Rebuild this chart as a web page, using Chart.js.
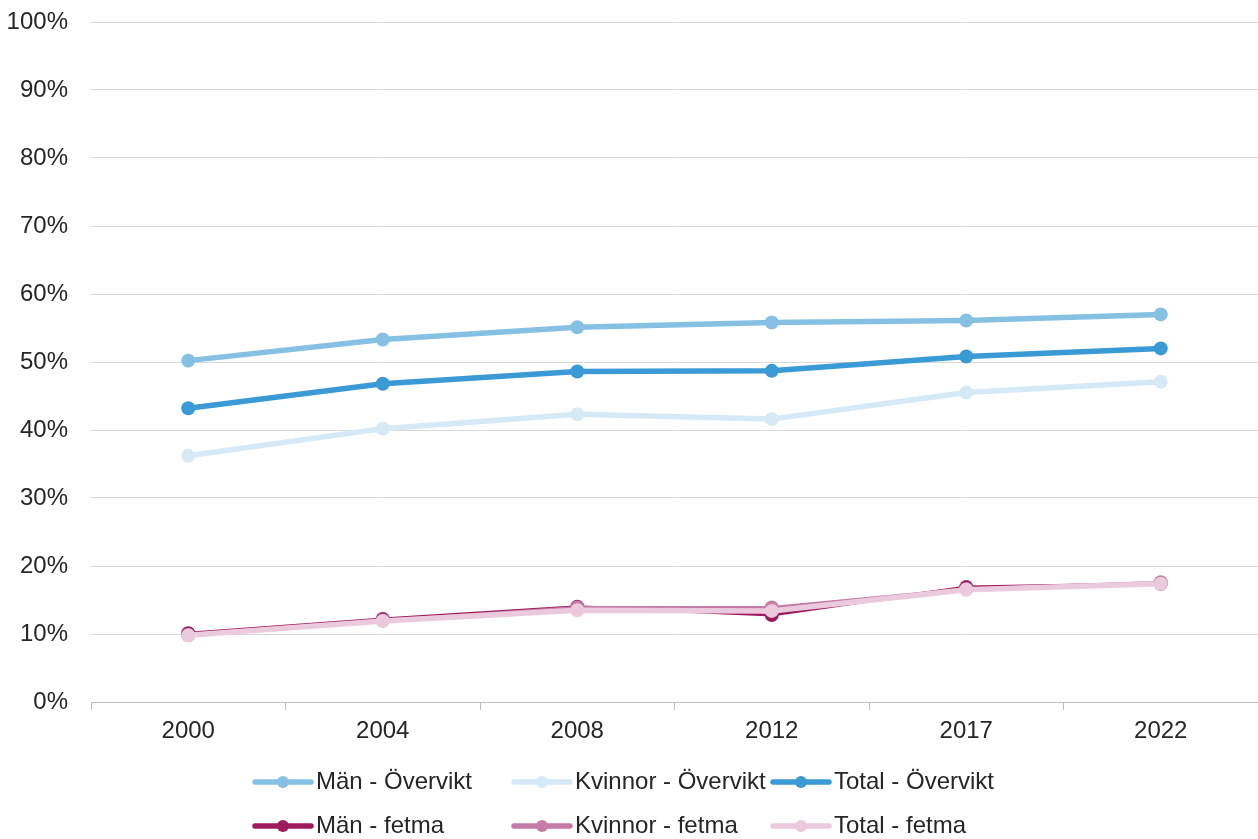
<!DOCTYPE html>
<html>
<head>
<meta charset="utf-8">
<script src="https://cdn.jsdelivr.net/npm/chart.js"></script>
<style>
  html, body { margin: 0; padding: 0; background: #fff; }
  #wrap { width: 1258px; height: 839px; }
</style>
</head>
<body>
<div id="wrap"><canvas id="myChart" width="1258" height="839"></canvas></div>
<script>
const years = ['2000', '2004', '2008', '2012', '2017', '2022'];

const manOvervikt = [50.2, 53.3, 55.1, 55.8, 56.1, 57.0];
const kvinnorOvervikt = [36.2, 40.2, 42.3, 41.6, 45.5, 47.1];
const totalOvervikt = [43.2, 46.8, 48.6, 48.7, 50.8, 52.0];
const manFetma = [10.1, 12.2, 14.0, 12.8, 16.9, 17.4];
const kvinnorFetma = [9.8, 12.0, 13.9, 13.9, 16.6, 17.6];
const totalFetma = [9.8, 11.9, 13.5, 13.4, 16.5, 17.4];

const seriesNames = [
  'Män - Övervikt', 'Kvinnor - Övervikt', 'Total - Övervikt',
  'Män - fetma', 'Kvinnor - fetma', 'Total - fetma',
];
const seriesValues = [manOvervikt, kvinnorOvervikt, totalOvervikt, manFetma, kvinnorFetma, totalFetma];
const seriesColors = ['#86c1e4', '#d6e9f6', '#3a9ad6', '#9e1a5f', '#c47ba6', '#ebcadd'];
const seriesWidths = [5.5, 5.5, 5.5, 3, 3, 5.5];

const textColor = '#262626';
const font = { family: 'Arial, "Liberation Sans", sans-serif', size: 24 };

// legend in two rows of three, under the x axis
const legendGrid = {
  id: 'legendGrid',
  afterDraw(chart) {
    const ctx = chart.ctx;
    const cols = [255, 514, 773];
    const rows = [782, 826];
    ctx.save();
    chart.data.datasets.forEach((ds, i) => {
      const x = cols[i % 3];
      const y = rows[Math.floor(i / 3)];
      ctx.strokeStyle = ds.borderColor;
      ctx.fillStyle = ds.borderColor;
      ctx.lineWidth = 5.5;
      ctx.lineCap = 'round';
      ctx.beginPath();
      ctx.moveTo(x, y);
      ctx.lineTo(x + 56, y);
      ctx.stroke();
      ctx.beginPath();
      ctx.arc(x + 28, y, 6, 0, Math.PI * 2);
      ctx.fill();
      ctx.fillStyle = textColor;
      ctx.font = font.size + 'px ' + font.family;
      ctx.textBaseline = 'middle';
      ctx.textAlign = 'left';
      ctx.fillText(ds.label, x + 61, y);
    });
    ctx.restore();
  },
};

const datasets = seriesNames.map((name, i) => ({
  label: name,
  data: seriesValues[i],
  borderColor: seriesColors[i],
  backgroundColor: seriesColors[i],
  borderWidth: seriesWidths[i],
  pointRadius: 7,
  pointBorderWidth: 0,
  pointHoverRadius: 7,
  tension: 0,
  clip: false,
  order: seriesNames.length - i,
}));

function noPadding(scale) {
  scale.paddingTop = 0;
  scale.paddingBottom = 0;
  scale.paddingLeft = 0;
  scale.paddingRight = 0;
}

const config = {
  type: 'line',
  data: { labels: years, datasets: datasets },
  plugins: [legendGrid],
  options: {
    responsive: false,
    animation: false,
    layout: { autoPadding: false, padding: { top: 22, right: 0, bottom: 97, left: 0 } },
    plugins: {
      legend: { display: false },
      tooltip: { enabled: false },
    },
    scales: {
      x: {
        offset: true,
        grid: {
          offset: true,
          drawOnChartArea: false,
          drawTicks: true,
          tickLength: 8,
          color: '#bfbfbf',
        },
        border: { color: '#bfbfbf', width: 1 },
        ticks: { color: textColor, font: font, padding: 7, maxRotation: 0 },
        afterFit(scale) { scale.height = 40; noPadding(scale); },
      },
      y: {
        min: 0,
        max: 100,
        grid: { color: '#d9d9d9', drawTicks: false },
        border: { display: false },
        ticks: {
          stepSize: 10,
          color: textColor,
          font: font,
          padding: 23,
          callback: (v) => v + '%',
        },
        afterFit(scale) { scale.width = 91; noPadding(scale); },
      },
    },
  },
};

const myChart = new Chart(document.getElementById('myChart'), config);
</script>
</body>
</html>
